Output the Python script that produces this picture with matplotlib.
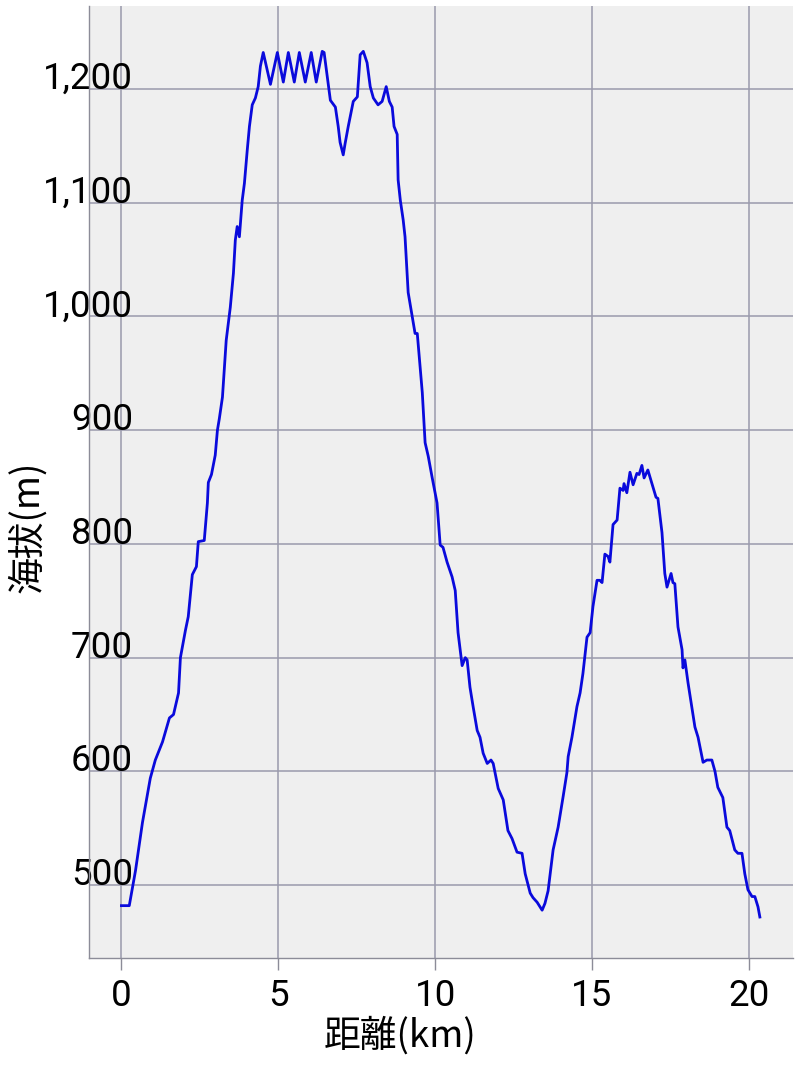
"""
Elevation profile: 距離(km) vs 海拔(m).
Saves out.png (800x1065).
"""

import matplotlib
matplotlib.use("Agg")
import matplotlib.pyplot as plt


# ----------------------------
# Data
# ----------------------------

distance_km = [
    0.00, 0.25, 0.45, 0.67, 0.76, 0.92, 1.08, 1.31, 1.53, 1.66,
    1.82, 1.88, 2.04, 2.13, 2.26, 2.39, 2.45, 2.64, 2.74, 2.77,
    2.87, 2.99, 3.06, 3.12, 3.22, 3.34, 3.47, 3.57, 3.63, 3.69,
    3.76, 3.85, 3.92, 4.01, 4.08, 4.17, 4.27, 4.36, 4.43, 4.52,
    4.75, 4.97, 5.16, 5.32, 5.51, 5.67, 5.86, 6.05, 6.21, 6.40,
    6.46, 6.66, 6.82, 6.91, 6.97, 7.07, 7.13, 7.23, 7.39, 7.52,
    7.61, 7.71, 7.83, 7.93, 8.03, 8.18, 8.31, 8.44, 8.54, 8.63,
    8.69, 8.79, 8.82, 8.89, 8.98, 9.04, 9.14, 9.27, 9.36, 9.43,
    9.59, 9.68, 9.78, 9.90, 10.06, 10.16, 10.25, 10.38, 10.54, 10.64,
    10.73, 10.86, 10.96, 11.02, 11.11, 11.21, 11.34, 11.43, 11.53, 11.66,
    11.78, 11.85, 12.01, 12.17, 12.32, 12.45, 12.61, 12.77, 12.87, 13.03,
    13.12, 13.25, 13.41, 13.50, 13.60, 13.76, 13.92, 14.08, 14.20, 14.24,
    14.36, 14.52, 14.62, 14.71, 14.84, 14.94, 15.03, 15.16, 15.25, 15.32,
    15.41, 15.51, 15.57, 15.67, 15.80, 15.89, 15.99, 16.02, 16.11, 16.21,
    16.31, 16.43, 16.50, 16.59, 16.66, 16.78, 16.91, 17.04, 17.10, 17.23,
    17.32, 17.39, 17.52, 17.58, 17.64, 17.74, 17.87, 17.90, 17.96, 18.06,
    18.28, 18.38, 18.54, 18.66, 18.82, 18.92, 19.01, 19.17, 19.30, 19.39,
    19.55, 19.65, 19.78, 19.87, 19.97, 20.10, 20.19, 20.29, 20.35,
]

elevation_m = [
    482, 482, 513, 555, 569, 594, 610, 626, 647, 650,
    669, 700, 724, 736, 773, 780, 802, 803, 836, 854,
    861, 878, 900, 910, 929, 979, 1008, 1038, 1067, 1079,
    1070, 1102, 1117, 1146, 1167, 1186, 1192, 1202, 1220, 1232,
    1204, 1232, 1206, 1232, 1206, 1232, 1206, 1232, 1206, 1233,
    1232, 1190, 1184, 1167, 1153, 1142, 1152, 1167, 1189, 1193,
    1230, 1233, 1223, 1202, 1192, 1186, 1189, 1202, 1189, 1184,
    1167, 1160, 1120, 1102, 1085, 1070, 1021, 1000, 985, 985,
    933, 889, 877, 859, 836, 799, 797, 784, 771, 759,
    722, 693, 700, 698, 674, 657, 636, 630, 616, 607,
    610, 607, 585, 575, 548, 541, 529, 528, 510, 493,
    489, 485, 478, 484, 495, 531, 551, 578, 599, 613,
    630, 657, 669, 686, 718, 722, 745, 768, 768, 766,
    791, 789, 784, 817, 821, 849, 847, 853, 845, 863,
    852, 862, 861, 869, 858, 865, 853, 841, 840, 810,
    774, 762, 774, 766, 765, 727, 707, 691, 698, 678,
    639, 630, 608, 610, 610, 600, 586, 577, 551, 548,
    531, 528, 528, 510, 496, 490, 490, 481, 472,
]

x_ticks = [0, 5, 10, 15, 20]
x_tick_labels = ["0", "5", "10", "15", "20"]
y_ticks = [500, 600, 700, 800, 900, 1000, 1100, 1200]
y_tick_labels = ["500", "600", "700", "800", "900", "1,000", "1,100", "1,200"]

x_label = "距離(km)"
y_label = "海拔(m)"


# ----------------------------
# Figure
# ----------------------------

def make_figure(save_path="out.png"):
    fig = plt.figure(figsize=(8.0, 10.65), dpi=100)
    ax = fig.add_axes([0.111, 0.1005, 0.880, 0.894])

    ax.set_facecolor("#efefef")
    ax.plot(distance_km, elevation_m, color="#0a0adc", linewidth=2.0,
            solid_joinstyle="round", zorder=3)

    ax.set_xlim(-1.04, 21.4)
    ax.set_ylim(436, 1273)

    ax.set_xticks(x_ticks)
    ax.set_xticklabels(x_tick_labels, fontfamily="Roboto", fontsize=26.5)
    ax.set_yticks(y_ticks)
    ax.set_yticklabels(y_tick_labels, fontfamily="Roboto", fontsize=26.5)

    # y labels sit inside the plot, right-aligned, on top of their gridline
    ax.tick_params(axis="y", length=0, pad=-32)
    plt.setp(ax.get_yticklabels(), va="baseline")
    ax.tick_params(axis="x", length=8.5, width=1.0, color="#8c8c98", pad=6)

    ax.grid(True, color="#9a9aac", linewidth=1.1, zorder=1)
    ax.set_axisbelow(True)

    for side in ("top", "right"):
        ax.spines[side].set_visible(False)
    for side in ("left", "bottom"):
        ax.spines[side].set_color("#8c8c98")
        ax.spines[side].set_linewidth(1.0)

    cjk = ["Noto Sans CJK JP", "DejaVu Sans"]
    fig.text(0.5, 0.027, x_label, ha="center", va="center",
             fontsize=26.5, family=cjk)
    fig.text(0.034, 0.505, y_label, ha="center", va="center",
             rotation=90, fontsize=26.5, family=cjk)

    fig.savefig(save_path, dpi=100)
    plt.close(fig)


if __name__ == "__main__":
    make_figure()
